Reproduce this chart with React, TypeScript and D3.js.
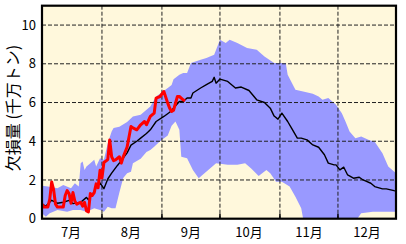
import React from "react";
import * as d3 from "d3";

const YEAR = 2012;

// Mean (black line)
const meanDates = ["07-01","07-03","07-06","07-09","07-12","07-15","07-17","07-21","07-24","07-25","07-28","07-29","07-31","08-02","08-04","08-06","08-09","08-11","08-14","08-16","08-19","08-21","08-24","08-26","08-29","09-02","09-05","09-07","09-10","09-12","09-14","09-16","09-17","09-21","09-24","09-27","09-28","09-29","10-01","10-05","10-09","10-12","10-16","10-20","10-24","10-27","10-29","10-31","11-02","11-05","11-07","11-10","11-12","11-15","11-18","11-21","11-24","11-26","11-29","11-30","12-02","12-04","12-06","12-09","12-12","12-14","12-18","12-20","12-24","12-26","12-30","12-31"];
const meanValues = [0.75,0.65,0.95,0.8,0.85,0.95,0.78,0.85,1.1,0.97,1.4,1.66,1.85,1.55,2.05,2.35,2.75,3.0,3.4,3.8,4.0,4.16,4.4,4.59,5.02,5.28,5.5,5.71,6.05,6.05,6.23,6.23,6.49,6.75,6.92,7.09,7.3,7.0,7.21,7.09,6.75,6.8,6.62,6.14,6.0,5.71,5.3,5.14,5.45,5.02,4.68,4.16,4.16,4.07,3.81,3.69,3.3,2.87,2.78,2.78,2.52,2.66,2.26,2.09,2.14,2.0,1.83,1.66,1.54,1.54,1.45,1.43];

// Actual (red line)
const actualDates = ["07-01","07-02","07-04","07-05","07-06","07-07","07-08","07-09","07-12","07-13","07-14","07-15","07-16","07-17","07-18","07-19","07-21","07-22","07-23","07-24","07-25","07-26","07-27","07-28","07-29","07-30","07-31","08-01","08-02","08-04","08-05","08-06","08-07","08-08","08-10","08-11","08-12","08-14","08-16","08-17","08-19","08-21","08-23","08-24","08-26","08-28","08-29","08-31","09-02","09-04","09-05","09-06","09-07","09-09","09-10","09-12","09-13"];
const actualValues = [0.75,0.6,0.6,1.0,1.9,1.5,0.75,0.6,0.6,1.2,1.45,1.3,0.8,1.35,0.9,0.75,0.85,0.65,0.85,0.4,0.35,1.3,1.2,1.35,1.8,1.6,2.5,2.1,2.9,3.05,4.07,3.2,3.0,3.04,3.2,2.87,3.2,3.7,4.76,4.69,4.59,4.85,5.02,4.85,5.28,5.45,6.23,6.31,6.57,5.97,5.71,5.54,5.6,6.31,6.31,6.14,6.1];

// Range band upper edge
const upperDates = ["07-01","07-04","07-09","07-12","07-16","07-18","07-20","07-21","07-22","07-23","07-24","07-26","07-28","07-29","07-31","08-02","08-04","08-06","08-07","08-10","08-14","08-17","08-21","08-26","08-29","09-04","09-06","09-07","09-10","09-12","09-14","09-16","09-21","09-24","09-28","10-01","10-04","10-06","10-10","10-15","10-20","10-24","10-29","11-01","11-04","11-05","11-09","11-13","11-18","11-21","11-23","11-26","11-30","12-03","12-05","12-07","12-10","12-13","12-17","12-20","12-24","12-27","12-31"];
const upperValues = [1.7,1.66,1.57,1.74,1.57,1.83,1.66,2.87,2.95,2.52,2.69,2.87,3.04,2.69,3.12,3.04,3.9,4.5,4.68,4.75,5.0,5.28,5.37,5.8,6.31,6.75,6.9,7.2,7.43,7.52,7.52,8.04,8.21,8.3,8.47,9.24,9.07,9.24,9.07,8.81,8.73,8.38,8.04,8.04,8.04,7.43,6.66,6.57,6.45,6.31,6.14,6.23,5.88,5.45,5.0,4.5,4.16,4.24,4.07,3.98,3.38,2.69,2.35];

// Range band lower edge
const lowerDates = ["07-01","07-03","07-05","07-09","07-14","07-17","07-21","07-24","07-28","07-31","08-02","08-04","08-06","08-08","08-10","08-12","08-14","08-16","08-17","08-21","08-24","08-26","08-28","08-31","09-04","09-06","09-08","09-10","09-11","09-14","09-17","09-20","09-23","09-26","09-29","10-05","10-10","10-14","10-17","10-21","10-25","10-27","10-30","11-02","11-06","11-09","11-12","11-13","12-11","12-13","12-19","12-31"];
const lowerValues = [0.28,0.1,0.28,0.45,0.36,0.45,0.45,0.36,0.54,0.45,0.36,0.62,0.54,0.54,1.35,2.1,2.35,2.43,2.87,3.1,3.45,3.55,3.72,4.0,4.3,4.8,5.02,4.59,3.2,3.12,2.52,2.09,2.35,2.61,2.87,2.78,2.78,2.87,2.61,2.2,2.52,2.35,1.91,1.91,1.66,1.14,0.54,0,0,0.28,0.36,0.36];

const yTicks = [0, 2, 4, 6, 8, 10];
const monthLabels = ["7月", "8月", "9月", "10月", "11月", "12月"];
const yTitle = "欠損量 (千万トン)";

const W = 406, H = 244;
const L = 42, R = 396, T = 5.7, B = 218.7;

const parse = (s: string) => new Date(YEAR, +s.slice(0, 2) - 1, +s.slice(3, 5));
type P = [Date, number];
const zip = (ds: string[], vs: number[]): P[] => ds.map((d, i) => [parse(d), vs[i]]);

export default function App() {
  const x = d3.scaleTime().domain([new Date(YEAR, 6, 1), new Date(YEAR, 11, 31)]).range([L, R]);
  const y = d3.scaleLinear().domain([0, 11]).range([B, T]);
  const line = d3.line<P>().x(d => x(d[0])).y(d => y(d[1]));

  const mean = zip(meanDates, meanValues);
  const actual = zip(actualDates, actualValues);
  const upper = zip(upperDates, upperValues);
  const lower = zip(lowerDates, lowerValues);
  const bandPath = line(upper.concat(lower.slice().reverse())) + "Z";

  const monthStarts = d3.range(6, 12).map(m => new Date(YEAR, m, 1));
  const monthMids = d3.range(6, 12).map(m => new Date(YEAR, m, 16));
  const font = "'Noto Sans CJK JP', 'Noto Sans', sans-serif";

  return (
    <svg width={W} height={H} style={{ position: "absolute", left: 0, top: 0 }} fontFamily={font}>
      <defs>
        <clipPath id="plot">
          <rect x={L} y={T} width={R - L} height={B - T} />
        </clipPath>
      </defs>
      <rect x={L} y={T} width={R - L} height={B - T} fill="#FFF8DC" />
      <g clipPath="url(#plot)">
        <path d={bandPath} fill="#9999FF" />
        {yTicks.filter(t => t > 0).map(t => (
          <line key={"h" + t} x1={L} x2={R} y1={y(t)} y2={y(t)} stroke="#222" strokeWidth={1} strokeDasharray="4,2" />
        ))}
        {monthStarts.slice(1).map((m, i) => (
          <line key={"v" + i} x1={x(m)} x2={x(m)} y1={T} y2={B} stroke="#222" strokeWidth={1} strokeDasharray="4,2" />
        ))}
        <path d={line(mean) || ""} fill="none" stroke="#000" strokeWidth={1.4} strokeLinejoin="round" />
        <path d={line(actual) || ""} fill="none" stroke="#FF0000" strokeWidth={3} strokeLinejoin="round" />
      </g>
      {monthStarts.slice(1).map((m, i) => (
        <line key={"t" + i} x1={x(m)} x2={x(m)} y1={B} y2={B - 5} stroke="#000" strokeWidth={1.5} />
      ))}
      <rect x={L} y={T} width={R - L} height={B - T} fill="none" stroke="#000" strokeWidth={2.2} />
      {yTicks.map(t => (
        <text key={"yl" + t} x={36} y={y(t)} dy="0.36em" textAnchor="end" fontSize={13}>{t}</text>
      ))}
      {monthMids.map((m, i) => (
        <text key={"ml" + i} x={x(m)} y={237} textAnchor="middle" fontSize={13}>{monthLabels[i]}</text>
      ))}
      <text transform={`translate(19,108) rotate(-90)`} textAnchor="middle" fontSize={16}>{yTitle}</text>
    </svg>
  );
}
